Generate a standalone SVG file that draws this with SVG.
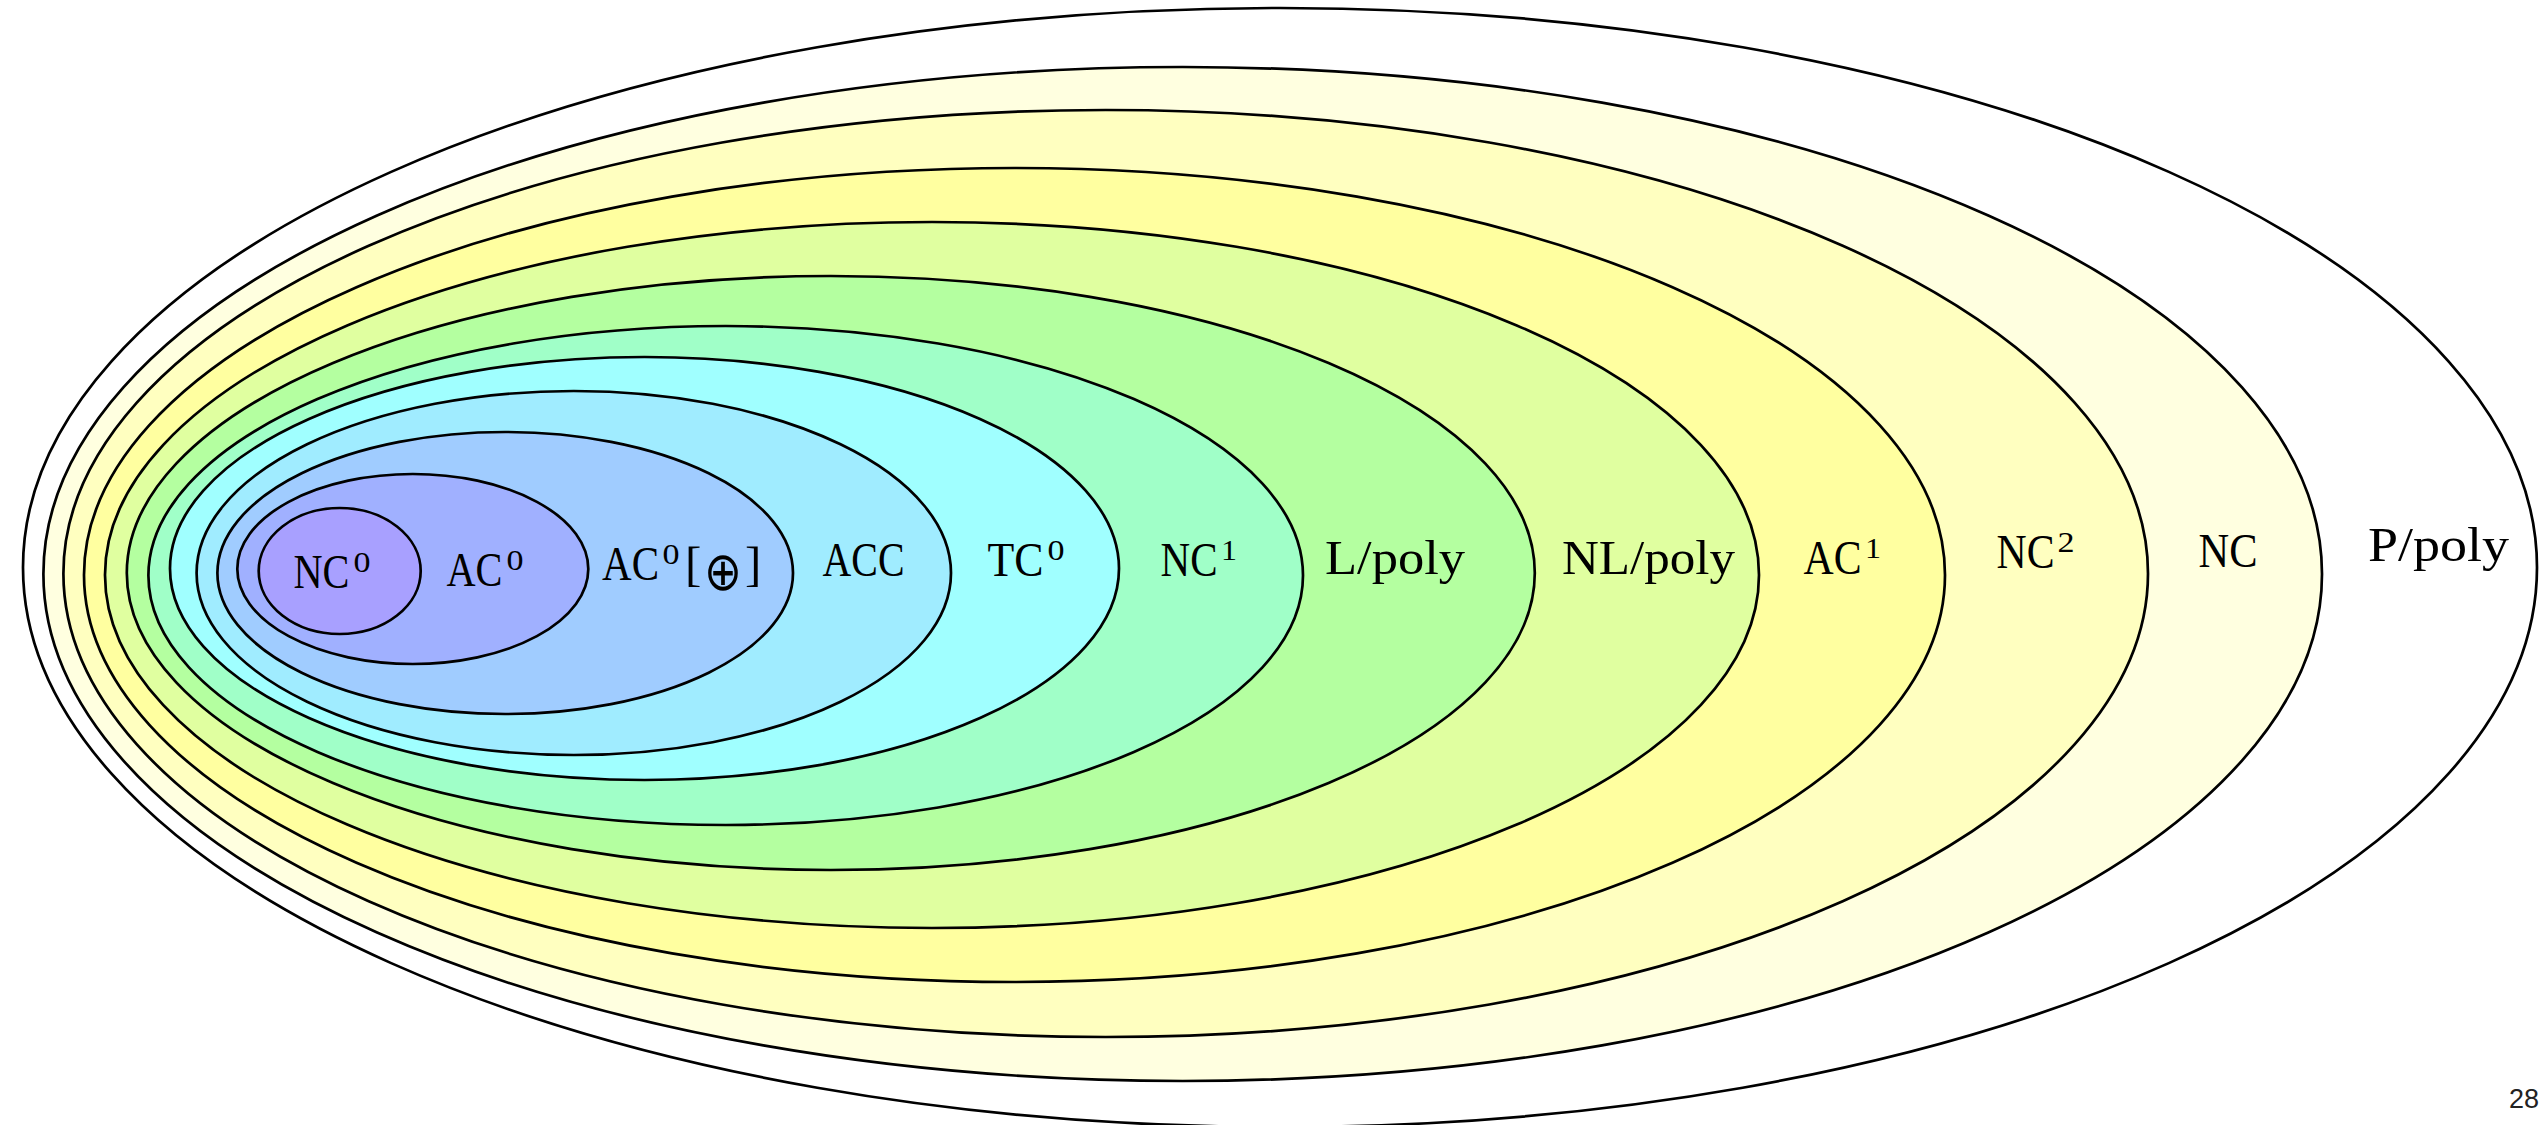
<svg xmlns="http://www.w3.org/2000/svg" width="2539" height="1125" viewBox="0 0 2539 1125">
  <style>
    .ring { stroke: #000; stroke-width: 2.7; }
    .lbl { font-family: "Liberation Serif", "DejaVu Serif", serif; font-size: 49px; fill: #000; }
    .sup { font-size: 30px; }
    .op { font-family: "DejaVu Sans", sans-serif; font-size: 54px; }
    .pg { font-family: "Liberation Sans", Arial, sans-serif; font-size: 27px; fill: #222; }
  </style>
  <rect width="2539" height="1125" fill="#fff"/>

  <!-- nested complexity classes, drawn from the outermost inwards -->
  <g id="p-poly">
    <ellipse class="ring" cx="1280" cy="567.5" rx="1257" ry="559.5" fill="#ffffff"/>
    <text class="lbl" x="2368" y="561" textLength="141" lengthAdjust="spacingAndGlyphs">P/poly</text>
  </g>
  <g id="nc">
    <ellipse class="ring" cx="1182.7" cy="574" rx="1139.3" ry="507" fill="#ffffe0"/>
    <text class="lbl" x="2198.5" y="567" textLength="59" lengthAdjust="spacingAndGlyphs">NC</text>
  </g>
  <g id="nc2">
    <ellipse class="ring" cx="1105.7" cy="573.5" rx="1042.3" ry="463.5" fill="#ffffc0"/>
    <text class="lbl" x="1996.5" y="568"><tspan textLength="58" lengthAdjust="spacingAndGlyphs">NC</tspan><tspan class="sup" dx="3" dy="-16" textLength="17" lengthAdjust="spacingAndGlyphs">2</tspan></text>
  </g>
  <g id="ac1">
    <ellipse class="ring" cx="1014.5" cy="575" rx="930.5" ry="407" fill="#ffffa0"/>
    <text class="lbl" x="1803.5" y="574"><tspan textLength="58" lengthAdjust="spacingAndGlyphs">AC</tspan><tspan class="sup" dx="3.5" dy="-16" textLength="16" lengthAdjust="spacingAndGlyphs">1</tspan></text>
  </g>
  <g id="nl-poly">
    <ellipse class="ring" cx="932" cy="575" rx="827" ry="353" fill="#e0ffa0"/>
    <text class="lbl" x="1562" y="574" textLength="173" lengthAdjust="spacingAndGlyphs">NL/poly</text>
  </g>
  <g id="l-poly">
    <ellipse class="ring" cx="830.8" cy="573" rx="704" ry="297" fill="#b4ffa0"/>
    <text class="lbl" x="1325" y="574" textLength="140" lengthAdjust="spacingAndGlyphs">L/poly</text>
  </g>
  <g id="nc1">
    <ellipse class="ring" cx="725.7" cy="575.5" rx="577.3" ry="249.5" fill="#a0ffc8"/>
    <text class="lbl" x="1160.5" y="576"><tspan textLength="57" lengthAdjust="spacingAndGlyphs">NC</tspan><tspan class="sup" dx="3.5" dy="-16" textLength="16" lengthAdjust="spacingAndGlyphs">1</tspan></text>
  </g>
  <g id="tc0">
    <ellipse class="ring" cx="644.5" cy="568.5" rx="474.5" ry="211.5" fill="#a0ffff"/>
    <text class="lbl" x="987.5" y="576"><tspan textLength="56" lengthAdjust="spacingAndGlyphs">TC</tspan><tspan class="sup" dx="4" dy="-16" textLength="17" lengthAdjust="spacingAndGlyphs">0</tspan></text>
  </g>
  <g id="acc">
    <ellipse class="ring" cx="573.8" cy="573" rx="377.2" ry="182" fill="#a0ecff"/>
    <text class="lbl" x="822.5" y="576" textLength="82" lengthAdjust="spacingAndGlyphs">ACC</text>
  </g>
  <g id="ac0-mod2">
    <ellipse class="ring" cx="505.2" cy="573" rx="287.8" ry="141" fill="#a0ccff"/>
    <text class="lbl" x="602" y="580"><tspan textLength="57" lengthAdjust="spacingAndGlyphs">AC</tspan><tspan class="sup" dx="3.5" dy="-16" textLength="17" lengthAdjust="spacingAndGlyphs">0</tspan><tspan dx="5.5" dy="16">[</tspan><tspan class="op" dx="2.7" dy="10" textLength="38" lengthAdjust="spacingAndGlyphs">⊕</tspan><tspan dx="3" dy="-10">]</tspan></text>
  </g>
  <g id="ac0">
    <ellipse class="ring" cx="412.8" cy="569" rx="175.5" ry="95" fill="#a0b0ff"/>
    <text class="lbl" x="446.5" y="586"><tspan textLength="56" lengthAdjust="spacingAndGlyphs">AC</tspan><tspan class="sup" dx="4" dy="-16" textLength="17" lengthAdjust="spacingAndGlyphs">0</tspan></text>
  </g>
  <g id="nc0">
    <ellipse class="ring" cx="339.7" cy="571" rx="81" ry="63" fill="#a8a0ff"/>
    <text class="lbl" x="293.5" y="588"><tspan textLength="56" lengthAdjust="spacingAndGlyphs">NC</tspan><tspan class="sup" dx="4" dy="-16" textLength="17" lengthAdjust="spacingAndGlyphs">0</tspan></text>
  </g>

  <text class="pg" x="2509" y="1108">28</text>
</svg>
